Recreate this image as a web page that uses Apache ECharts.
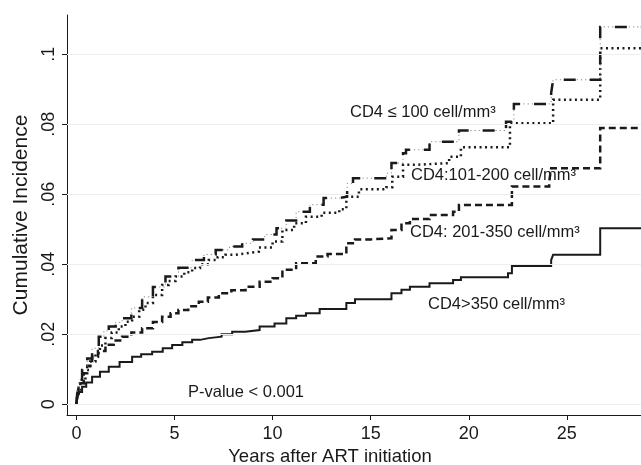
<!DOCTYPE html>
<html>
<head>
<meta charset="utf-8">
<script src="https://cdn.jsdelivr.net/npm/echarts@6/dist/echarts.min.js"></script>
<style>html,body{margin:0;padding:0;background:#fff}#c{width:641px;height:465px}</style>
</head>
<body>
<div id="c"></div>
<script>
// ---- data (years after ART initiation, cumulative incidence) ----
var x100 = [0,0.05,0.15,0.29,0.55,0.8,1.14,1.4,1.65,2.0,2.33,2.8,3.35,3.9,4.54,5.2,5.9,6.5,7.1,7.8,8.45,9.0,9.6,10.2,10.7,11.2,11.9,12.6,13.4,13.8,14.1,15.8,16.06,16.65,16.8,18.0,19.5,21.9,22.3,24.2,24.3,26.7,28.8];
var y100 = [0,0.004,0.007,0.0098,0.0131,0.016,0.0193,0.021,0.0222,0.0234,0.0246,0.0275,0.0307,0.0335,0.0365,0.039,0.0412,0.0428,0.0441,0.0451,0.046,0.0471,0.0485,0.0503,0.0525,0.055,0.057,0.0589,0.0593,0.0631,0.0646,0.066,0.0689,0.0717,0.0727,0.075,0.0782,0.0807,0.0858,0.0889,0.0927,0.1078,0.1078];

var x200 = [0,0.05,0.2,0.46,0.7,0.97,1.2,1.48,1.8,2.16,2.5,2.84,3.2,3.52,3.9,4.37,4.7,5.05,5.5,5.9,6.3,6.75,7.2,7.6,8.1,8.62,9.3,10.0,10.5,11.1,11.7,12.5,13.4,13.76,14.4,15.8,16.1,16.65,17.3,19.0,19.6,22.1,24.3,26.7,28.8];
var y200 = [0,0.003,0.006,0.0098,0.0122,0.0146,0.0168,0.0189,0.0205,0.0222,0.0236,0.025,0.027,0.0289,0.0312,0.0341,0.0352,0.0365,0.0377,0.0389,0.04,0.0412,0.042,0.0427,0.0431,0.0436,0.0448,0.0465,0.0498,0.0517,0.0536,0.0547,0.0557,0.0593,0.0614,0.062,0.065,0.0684,0.0689,0.0707,0.0734,0.0803,0.087,0.1017,0.1017];

var x350 = [0,0.05,0.15,0.37,0.55,0.8,1.1,1.48,1.9,2.33,2.8,3.35,3.9,4.37,4.8,5.2,5.7,6.24,6.7,7.26,7.9,8.62,9.34,10.0,10.5,11.2,12.2,12.8,13.76,14.2,15.0,16.06,16.57,17.0,18.0,19.2,19.5,22.2,24.1,24.2,26.7,28.8];
var y350 = [0,0.003,0.006,0.0089,0.011,0.0136,0.0152,0.017,0.0182,0.0193,0.0205,0.0217,0.0235,0.025,0.026,0.0269,0.028,0.0293,0.0305,0.0317,0.0326,0.0336,0.035,0.036,0.0384,0.0403,0.0422,0.0429,0.046,0.0471,0.0474,0.0498,0.0517,0.0529,0.0541,0.055,0.0569,0.0622,0.0636,0.0674,0.0789,0.0789];

var xGt350 = [0,0.05,0.15,0.29,0.5,0.8,1.2,1.65,2.2,2.84,3.3,3.86,4.4,4.88,5.4,5.9,6.3,6.75,7.4,7.94,8.6,9.34,10.1,10.7,11.2,11.7,12.4,13.76,14.2,16.06,16.57,17.0,18.0,19.2,19.6,22.0,22.2,24.2,24.3,26.7,28.8];
var yGt350 = [0,0.002,0.0035,0.005,0.0062,0.0079,0.0093,0.0107,0.0121,0.0136,0.0143,0.015,0.016,0.0169,0.0177,0.0184,0.0189,0.0193,0.02,0.0207,0.0212,0.0222,0.0231,0.0246,0.0253,0.026,0.0272,0.0289,0.03,0.0317,0.0327,0.0336,0.0346,0.0355,0.0363,0.0374,0.0395,0.0412,0.0427,0.0503,0.0503];

var xTicks = [0,5,10,15,20,25];
var yTicks = [0,0.02,0.04,0.06,0.08,0.1];
var yTickLabels = ['0','.02','.04','.06','.08','.1'];

var labels = ['CD4 \u2264 100 cell/mm\u00b3','CD4:101-200 cell/mm\u00b3','CD4: 201-350 cell/mm\u00b3','CD4>350 cell/mm\u00b3','P-value < 0.001'];

function pairs(xs, ys){ return xs.map(function(x,i){ return [x, ys[i]]; }); }

var FONT = 'Liberation Sans, Arial, sans-serif';
var INK = '#1a1a1a';
var chart = echarts.init(document.getElementById('c'), null, {renderer:'canvas'});

function stepLine(data, lineStyle, z){
  return {type:'line', step:'end', data:data, showSymbol:false, symbol:'none', silent:true, z:z||2,
    lineStyle:Object.assign({color:INK, cap:'butt', join:'miter'}, lineStyle), animation:false};
}

var gridSeries = {
  type:'line', data:[], silent:true, animation:false,
  markLine:{silent:true, symbol:'none', label:{show:false}, animation:false,
    lineStyle:{color:'#eeeeee', width:1, type:'solid'},
    data: yTicks.map(function(v){ return {yAxis:v}; })}
};

chart.setOption({
  animation:false,
  backgroundColor:'#fff',
  grid:{left:67, right:0, top:15, bottom:50, containLabel:false, outerBoundsMode:'none'},
  xAxis:{type:'value', min:-0.48, max:28.78,
    name:'Years after ART initiation', nameLocation:'middle', nameGap:32,
    nameTextStyle:{fontFamily:FONT, fontSize:18.5, color:INK, padding:[0,48,0,0]},
    axisLine:{show:true, onZero:false, lineStyle:{color:INK, width:1}},
    axisTick:{show:true, length:5, customValues:xTicks, lineStyle:{color:INK}},
    axisLabel:{customValues:xTicks, fontFamily:FONT, fontSize:18, color:INK, margin:10},
    splitLine:{show:false}},
  yAxis:{type:'value', min:-0.00306, max:0.1112,
    name:'Cumulative Incidence', nameLocation:'middle', nameGap:33, nameRotate:90,
    nameTextStyle:{fontFamily:FONT, fontSize:21, color:INK},
    axisLine:{show:true, onZero:false, lineStyle:{color:INK, width:1}},
    axisTick:{show:true, length:5, customValues:yTicks, lineStyle:{color:INK}},
    axisLabel:{customValues:yTicks, rotate:90, fontFamily:FONT, fontSize:18, color:INK, margin:9,
      formatter:function(v){ var i = yTicks.findIndex(function(t){return Math.abs(t-v)<1e-9;}); return i>=0 ? yTickLabels[i] : ''; }},
    splitLine:{show:false}},
  series:[
    gridSeries,
    stepLine(pairs(xGt350,yGt350), {width:2, type:'solid'}, 3),
    stepLine(pairs(x350,y350), {width:2.5, type:[7,4]}, 3),
    stepLine(pairs(x200,y200), {width:2.5, type:[2,3.5]}, 3),
    stepLine(pairs(x100,y100), {width:1, type:[1.2,3], color:'#888'}, 3),
    stepLine(pairs(x100,y100), {width:2.5, type:[12,14]}, 4)
  ],
  graphic:[
    {type:'text', x:350, y:112, style:{text:labels[0], font:'16.5px '+FONT, fill:INK, verticalAlign:'middle', align:'left'}},
    {type:'text', x:411, y:175, style:{text:labels[1], font:'16.5px '+FONT, fill:INK, verticalAlign:'middle', align:'left'}},
    {type:'text', x:410, y:232, style:{text:labels[2], font:'16.5px '+FONT, fill:INK, verticalAlign:'middle', align:'left'}},
    {type:'text', x:428, y:304, style:{text:labels[3], font:'16.5px '+FONT, fill:INK, verticalAlign:'middle', align:'left'}},
    {type:'text', x:188, y:392, style:{text:labels[4], font:'16.5px '+FONT, fill:INK, verticalAlign:'middle', align:'left'}}
  ]
});
</script>
</body>
</html>
